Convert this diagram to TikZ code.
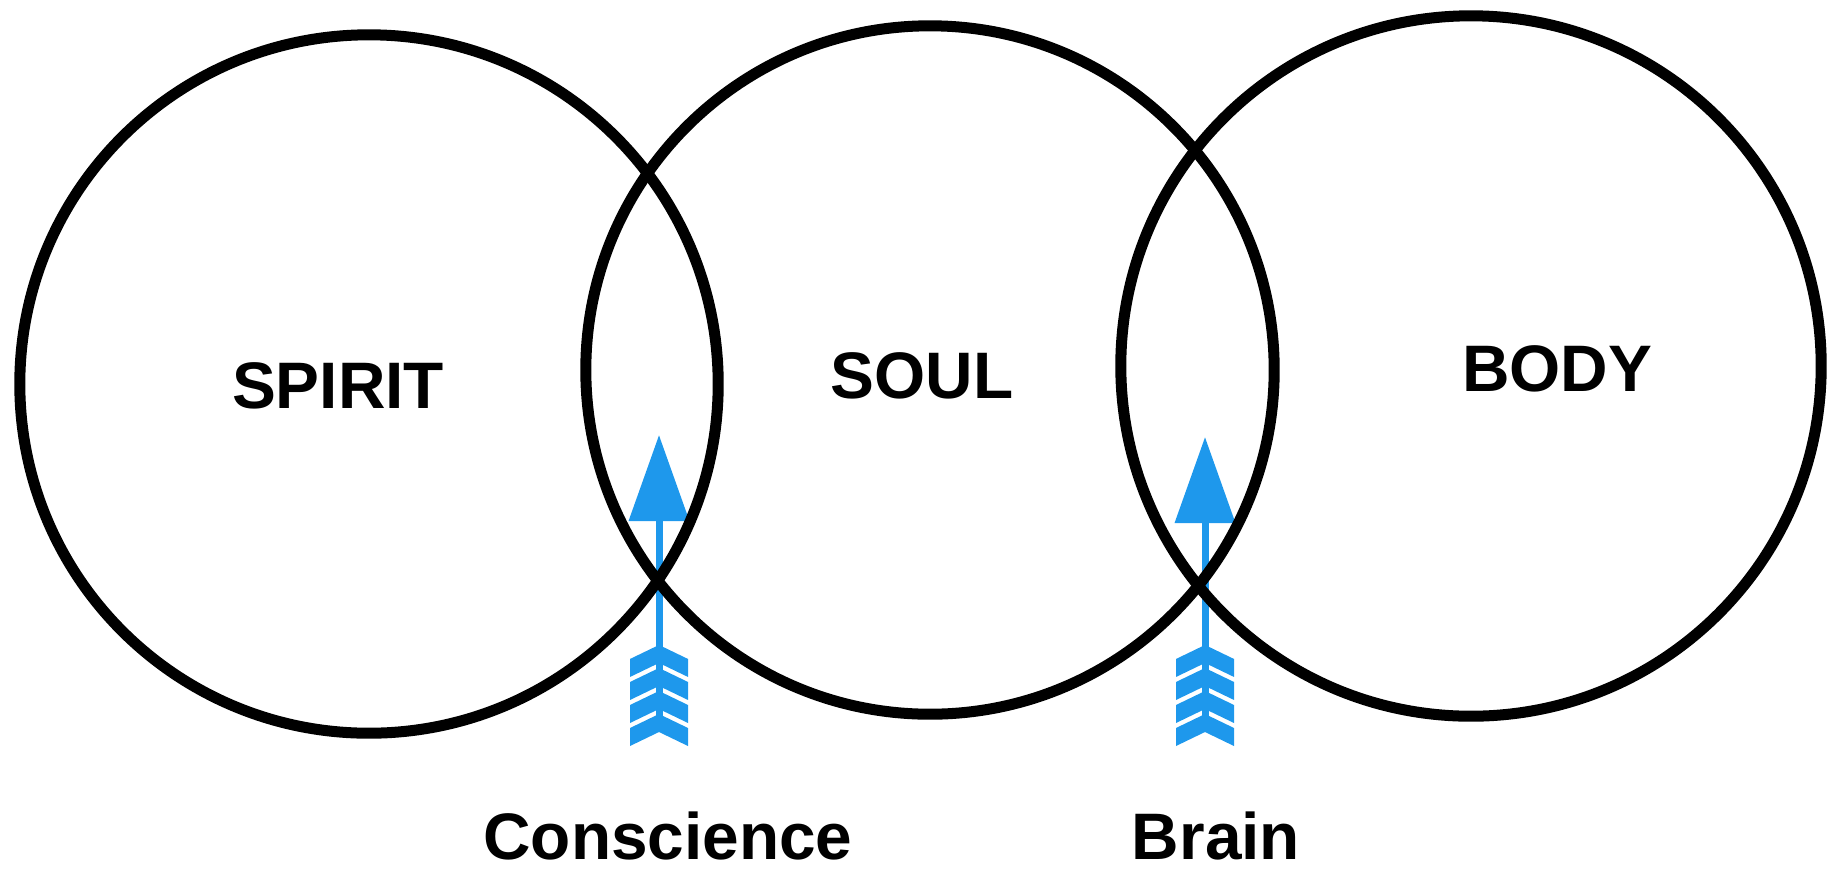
\documentclass[tikz,border=0pt]{standalone}
\usepackage{fontspec}
\setmainfont{Liberation Sans}
\usetikzlibrary{
  arrows.meta,
  positioning
}
\definecolor{ArrowBlue}{HTML}{1E98EC}
\tikzset{
  ring/.style={draw=black,circle,line width=0.11cm,inner sep=0pt},
  tag/.style={font=\bfseries\fontsize{18.7}{22}\selectfont,inner sep=0pt},
  shaft/.style={draw=ArrowBlue,line width=0.07cm,-{Triangle[length=0.86cm,width=0.59cm]}}
}
% feathers at the tail of an arrow
\newcommand{\fletching}[1]{%
  \foreach \k in {0,...,3}{
    \fill[ArrowBlue,shift={(#1)},yshift=\k*0.23cm]
      (0,-18) -- (29,-4) -- (29,14) -- (0,0) -- (-29,14) -- (-29,-4) -- cycle;
  }}

\begin{document}
\begin{tikzpicture}[x=0.01cm,y=-0.01cm]
    \useasboundingbox (0,0) rectangle (1827,869);

    % arrows
    \coordinate (ctail) at (659,732);
    \coordinate (ctip) at (659,435);
    \coordinate (btail) at (1205,732);
    \coordinate (btip) at (1205,437);
    \draw[shaft] (ctail) -- (ctip);
    \draw[shaft] (btail) -- (btip);
    \fletching{ctail}
    \fletching{btail}

    % circles
    \node[ring,minimum size=6.98cm] (spirit) at (369,384) {};
    \node[ring,minimum size=6.88cm] (soul) at (930,370) {};
    \node[ring,minimum size=7.00cm] (body) at (1471,366) {};

    \node[tag] (spiritname) at (338,386) {SPIRIT};
    \node[tag] (soulname) at (922,376) {SOUL};
    \node[tag] (bodyname) at (1557,369) {BODY};

    \node[tag] (conscience) at (668,836) {Conscience};
    \node[tag] (brain) at (1216,836) {Brain};
  \end{tikzpicture}
\end{document}
